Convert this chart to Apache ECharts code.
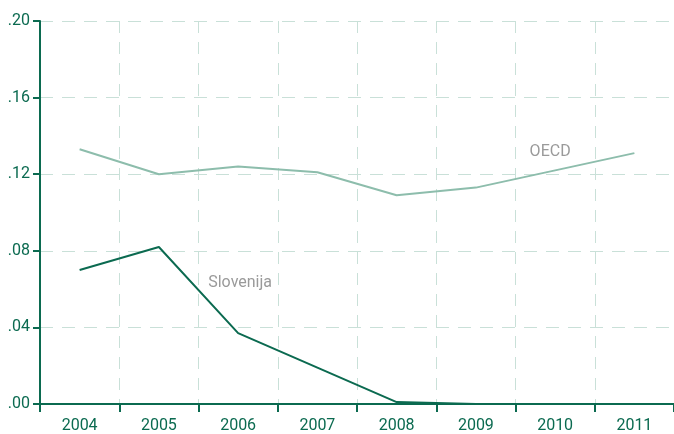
<!DOCTYPE html>
<html>
<head>
<meta charset="utf-8">
<script src="https://cdn.jsdelivr.net/npm/echarts@6/dist/echarts.min.js"></script>
<style>
  html, body { margin: 0; padding: 0; background: #fff; }
  #chart { width: 674px; height: 434px; }
</style>
</head>
<body>
<div id="chart"></div>
<script>
const years = ['2004', '2005', '2006', '2007', '2008', '2009', '2010', '2011'];
const slovenija = [0.070, 0.082, 0.037, 0.019, 0.001, 0.000, 0.000, 0.000];
const oecd = [0.133, 0.120, 0.124, 0.121, 0.109, 0.113, 0.122, 0.131];
const yTicks = [0, 0.04, 0.08, 0.12, 0.16, 0.20];

const dark = '#0b6a50';
const light = '#8dbdac';
const gridCol = '#c9e0d8';
const font = '"Liberation Sans Narrow", "Arial Narrow", "Roboto", sans-serif';

const chart = echarts.init(document.getElementById('chart'));

chart.setOption({
  animation: false,
  grid: { left: 40, top: 21, width: 640, height: 383 },
  xAxis: {
    type: 'category',
    data: years,
    boundaryGap: true,
    axisLine: { lineStyle: { color: dark, width: 2 } },
    axisTick: { show: true, length: 8, lineStyle: { color: dark, width: 2 } },
    axisLabel: { color: dark, fontSize: 16, fontFamily: font, margin: 14 },
    splitLine: { show: true, lineStyle: { color: gridCol, type: [12, 9], width: 1 } }
  },
  yAxis: {
    type: 'value',
    min: yTicks[0],
    max: yTicks[yTicks.length - 1],
    interval: 0.04,
    axisLine: { show: true, lineStyle: { color: dark, width: 2 } },
    axisTick: { show: true, length: 7, lineStyle: { color: dark, width: 2 } },
    axisLabel: {
      color: dark, fontSize: 16, fontFamily: font, margin: 10,
      formatter: v => v.toFixed(2).replace(/^0/, '')
    },
    splitLine: { show: true, lineStyle: { color: gridCol, type: [13, 9], width: 1 } }
  },
  series: [
    {
      name: 'OECD',
      type: 'line',
      data: oecd.map((v, i) => i === 6
        ? { value: v, label: { show: true, formatter: 'OECD', position: 'top', offset: [-5, -5] } }
        : v),
      symbol: 'circle',
      symbolSize: 0,
      showSymbol: true,
      lineStyle: { color: light, width: 2 },
      label: { color: '#9a9a9a', fontSize: 16, fontFamily: font }
    },
    {
      name: 'Slovenija',
      type: 'line',
      data: slovenija.map((v, i) => i === 2
        ? { value: v, label: { show: true, formatter: 'Slovenija', position: 'top', offset: [2, -37] } }
        : v),
      symbol: 'circle',
      symbolSize: 0,
      showSymbol: true,
      lineStyle: { color: dark, width: 2 },
      label: { color: '#9a9a9a', fontSize: 16, fontFamily: font }
    }
  ]
});
</script>
</body>
</html>
